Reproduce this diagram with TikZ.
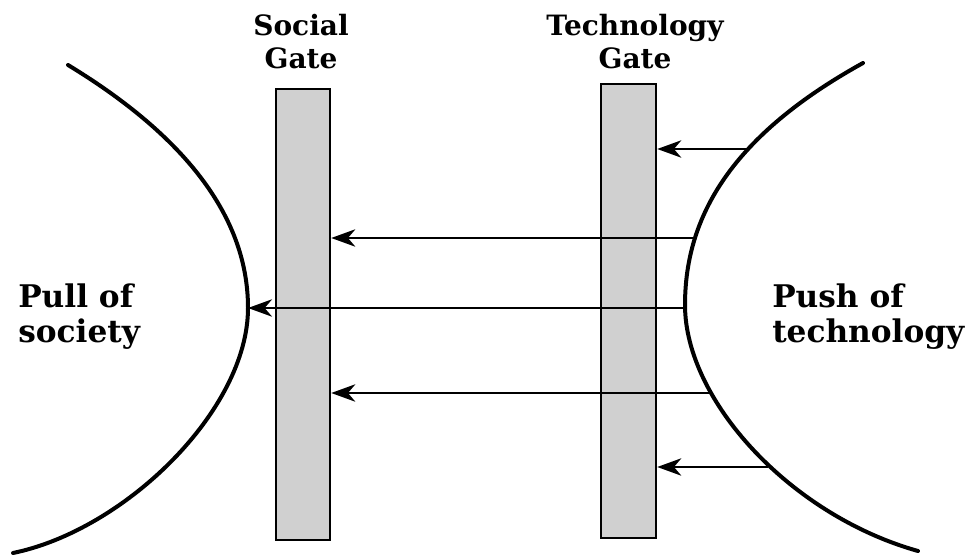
\documentclass[tikz,border=0pt]{standalone}
\usepackage{fontspec}
\setmainfont{DejaVu Serif}
\usetikzlibrary{arrows.meta,fit}
\definecolor{gatefill}{RGB}{208,208,208}
\tikzset{
  gate/.style={draw=black, line width=1.9pt, fill=gatefill, inner sep=0pt},
  field/.style={line width=3pt, line cap=round},
  flow/.style={line width=1.8pt, -{Stealth[length=18pt,width=13pt,inset=5.5pt]}},
  side/.style={align=left, inner sep=0pt, anchor=north west, font=\bfseries\fontsize{23.4}{26}\selectfont},
  title/.style={align=center, inner sep=0pt, anchor=north, font=\bfseries\fontsize{21}{25}\selectfont},
}
\begin{document}
\begin{tikzpicture}[x=0.75pt,y=-0.75pt]
\useasboundingbox (0,0) rectangle (970,556);

% the two gates
\node[gate, fit={(276,89) (330,540)}] (sg) {};
\node[gate, fit={(601,84) (656,538)}] (tg) {};

% gate titles
\node[title] (sgt) at (301,14) {Social\\Gate};
\node[title] (tgt) at (635,14) {Technology\\Gate};

% pull of society: left boundary
\coordinate (lt) at (68,65);
\coordinate (lv) at (248,308);
\coordinate (lb) at (13,553);
\draw[field] (lt) .. controls (175,130) and (248,210) .. (lv)
                  .. controls (248,410) and (125,530) .. (lb);

% push of technology: right boundary
\coordinate (rt) at (863,63);
\coordinate (rv) at (685,305);
\coordinate (rb) at (918,551);
\draw[field] (rt) .. controls (733,135) and (685,215) .. (rv)
                  .. controls (685,400) and (790,515) .. (rb);

% start points of the flows, on the right boundary
\coordinate (r1) at (746,149);
\coordinate (r2) at (695,238);
\coordinate (r3) at (685,308);
\coordinate (r4) at (711,393);
\coordinate (r5) at (768,467);

% flows from technology towards society
\draw[flow] (r1) -- (r1 -| tg.east);
\draw[flow] (r2) -- (r2 -| sg.east);
\draw[flow] (r3) -- (lv);
\draw[flow] (r4) -- (r4 -| sg.east);
\draw[flow] (r5) -- (r5 -| tg.east);

% side labels
\node[side] (pull) at (18,284) {Pull of\\society};
\node[side] (push) at (772,284) {Push of\\technology};
\end{tikzpicture}
\end{document}
